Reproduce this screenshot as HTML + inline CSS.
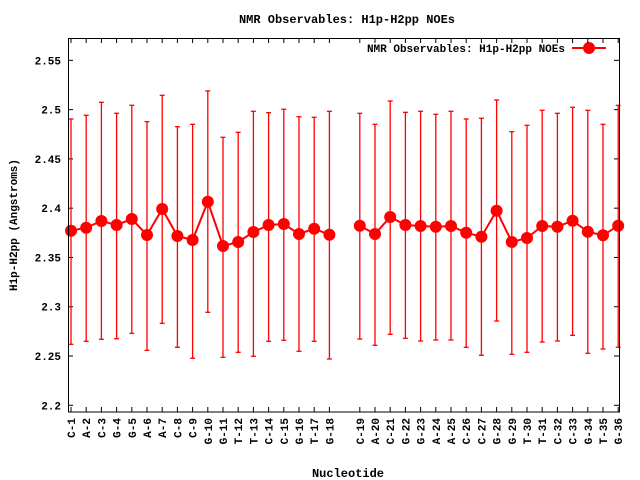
<!DOCTYPE html>
<html><head><meta charset="utf-8"><style>
html,body{margin:0;padding:0;background:#fff;width:640px;height:480px;overflow:hidden}
svg text{font-family:"Liberation Mono",monospace;font-weight:bold;fill:#000}
</style></head><body>
<svg id="s" width="640" height="480" xmlns="http://www.w3.org/2000/svg">
<rect width="640" height="480" fill="#fff"/>
<text x="347" y="23" font-size="12" text-anchor="middle">NMR Observables: H1p-H2pp NOEs</text>
<text x="348" y="477" font-size="12" text-anchor="middle">Nucleotide</text>
<text transform="translate(17,225) rotate(-90)" font-size="11" text-anchor="middle">H1p-H2pp (Angstroms)</text>
<text x="565" y="52" font-size="11" text-anchor="end">NMR Observables: H1p-H2pp NOEs</text>
<line x1="572" y1="48" x2="606" y2="48" stroke="#f00" stroke-width="2"/>
<circle cx="589" cy="48" r="6" fill="#f00"/>
<g id="g"></g>
<rect x="68.5" y="38.5" width="551" height="373.5" fill="none" stroke="#000" stroke-width="1"/>
</svg>
<script>
var names=["C-1","A-2","C-3","G-4","G-5","A-6","A-7","C-8","C-9","G-10","G-11","T-12","T-13","C-14","C-15","G-16","T-17","G-18","C-19","A-20","C-21","G-22","G-23","A-24","A-25","C-26","C-27","G-28","G-29","T-30","T-31","C-32","C-33","G-34","T-35","G-36"];
var c=[230.7,227.7,221,225,219,235,209,236,240,201.7,246,242,232,225,224,234,228.7,234.7,225.7,234,217,225,226,226.7,226,232.7,236.7,210.7,242,238,226,226.7,220.7,231.7,235.3,225.7];
var h=[119,115.3,102.3,113.3,105.3,121.7,95.3,126.7,124.3,91,137.3,132.3,111.3,112.7,109.3,116.7,117.3,111.3,113.3,124.3,101,112.3,111.3,114.3,111.3,119,118.3,100,131.7,125.3,110.3,113.3,107.3,110.3,124.3,105.3];
var l=[344.3,341.3,339.3,338.7,333.3,350.3,323.3,347.3,358.3,312.3,357.3,352.3,356.3,341.3,340.3,351.3,341.3,359,339,345.3,334.3,338.3,341,340,340,347.3,355.3,321,354.3,352.3,342,341,335.3,353.3,349,347.3];
var s="";function X(i){var k=i<18?i:i+1;return 71+k*15.2;}
// y ticks
var yl=["2.2","2.25","2.3","2.35","2.4","2.45","2.5","2.55"];
for(var j=0;j<8;j++){var y=405.3-j*49.28;s+='<line x1="68" y1="'+y+'" x2="73" y2="'+y+'" stroke="#000"/><line x1="614" y1="'+y+'" x2="619" y2="'+y+'" stroke="#000"/><text x="61" y="'+(y+4)+'" font-size="11" text-anchor="end">'+yl[j]+'</text>';}
for(var i=0;i<36;i++){var x=X(i);s+='<line x1="'+x+'" y1="412" x2="'+x+'" y2="407" stroke="#000"/><line x1="'+x+'" y1="38" x2="'+x+'" y2="43" stroke="#000"/>';
s+='<text transform="translate('+(x+4)+',418) rotate(-90)" font-size="11" text-anchor="end">'+names[i]+'</text>';
s+='<line x1="'+x+'" y1="'+h[i]+'" x2="'+x+'" y2="'+l[i]+'" stroke="#f00" stroke-width="1.3"/><line x1="'+(x-2.5)+'" y1="'+h[i]+'" x2="'+(x+2.5)+'" y2="'+h[i]+'" stroke="#f00" stroke-width="1.3"/><line x1="'+(x-2.5)+'" y1="'+l[i]+'" x2="'+(x+2.5)+'" y2="'+l[i]+'" stroke="#f00" stroke-width="1.3"/>';}
var p1="",p2="";for(var i=0;i<18;i++)p1+=X(i)+","+c[i]+" ";for(var i=18;i<36;i++)p2+=X(i)+","+c[i]+" ";
s+='<polyline points="'+p1+'" fill="none" stroke="#f00" stroke-width="2"/><polyline points="'+p2+'" fill="none" stroke="#f00" stroke-width="2"/>';
for(var i=0;i<36;i++)s+='<circle cx="'+X(i)+'" cy="'+c[i]+'" r="6" fill="#f00"/>';
document.getElementById("g").innerHTML=s;
</script>
</body></html>
